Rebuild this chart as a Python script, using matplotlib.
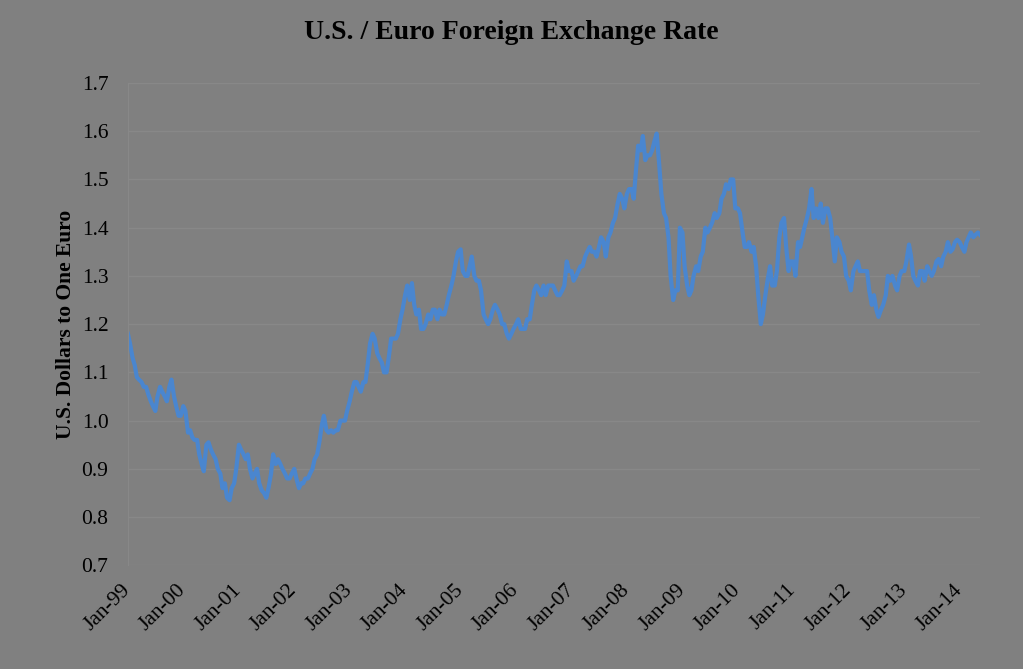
"""U.S. / Euro foreign exchange rate, 1999-2014."""
import numpy as np
import matplotlib
matplotlib.use("Agg")
import matplotlib.pyplot as plt

# Semi-monthly readings (1st and 15th of each month), dollars per euro
rate_1999 = [1.18, 1.16, 1.13, 1.115, 1.09, 1.085, 1.08, 1.07, 1.07, 1.055, 1.04, 1.03,
             1.02, 1.05, 1.07, 1.06, 1.05, 1.04, 1.07, 1.085, 1.05, 1.03, 1.01, 1.01]
rate_2000 = [1.03, 1.02, 0.975, 0.98, 0.965, 0.96, 0.96, 0.93, 0.91, 0.895, 0.95, 0.955,
             0.94, 0.93, 0.92, 0.90, 0.89, 0.86, 0.87, 0.84, 0.835, 0.86, 0.87, 0.90]
rate_2001 = [0.95, 0.94, 0.93, 0.92, 0.93, 0.90, 0.88, 0.89, 0.90, 0.87, 0.855, 0.85,
             0.84, 0.86, 0.89, 0.93, 0.91, 0.92, 0.91, 0.90, 0.89, 0.88, 0.88, 0.89]
rate_2002 = [0.90, 0.88, 0.86, 0.87, 0.87, 0.88, 0.88, 0.89, 0.90, 0.92, 0.93, 0.955,
             0.99, 1.01, 0.98, 0.975, 0.98, 0.975, 0.98, 0.98, 1.00, 1.00, 1.00, 1.02]
rate_2003 = [1.04, 1.06, 1.08, 1.08, 1.07, 1.06, 1.08, 1.08, 1.12, 1.16, 1.18, 1.17,
             1.14, 1.13, 1.12, 1.10, 1.10, 1.13, 1.17, 1.17, 1.17, 1.18, 1.21, 1.23]
rate_2004 = [1.26, 1.28, 1.25, 1.285, 1.24, 1.22, 1.23, 1.19, 1.19, 1.20, 1.22, 1.21,
             1.23, 1.23, 1.21, 1.23, 1.22, 1.22, 1.24, 1.26, 1.28, 1.30, 1.33, 1.35]
rate_2005 = [1.355, 1.31, 1.30, 1.30, 1.32, 1.34, 1.30, 1.29, 1.29, 1.27, 1.22, 1.21,
             1.20, 1.21, 1.23, 1.24, 1.23, 1.22, 1.20, 1.20, 1.18, 1.17, 1.18, 1.19]
rate_2006 = [1.20, 1.21, 1.19, 1.19, 1.19, 1.21, 1.21, 1.24, 1.27, 1.28, 1.27, 1.26,
             1.28, 1.26, 1.28, 1.28, 1.28, 1.27, 1.26, 1.26, 1.27, 1.28, 1.33, 1.31]
rate_2007 = [1.31, 1.29, 1.30, 1.31, 1.32, 1.32, 1.34, 1.35, 1.36, 1.35, 1.35, 1.34,
             1.36, 1.38, 1.37, 1.34, 1.38, 1.39, 1.41, 1.42, 1.45, 1.47, 1.46, 1.44]
rate_2008 = [1.47, 1.48, 1.48, 1.46, 1.52, 1.57, 1.56, 1.59, 1.54, 1.55, 1.55, 1.56,
             1.58, 1.595, 1.53, 1.47, 1.43, 1.42, 1.38, 1.30, 1.25, 1.27, 1.27, 1.40]
rate_2009 = [1.39, 1.32, 1.28, 1.26, 1.27, 1.30, 1.32, 1.31, 1.34, 1.35, 1.40, 1.39,
             1.40, 1.41, 1.43, 1.42, 1.43, 1.46, 1.47, 1.49, 1.48, 1.50, 1.50, 1.44]
rate_2010 = [1.44, 1.43, 1.39, 1.36, 1.36, 1.37, 1.35, 1.36, 1.32, 1.26, 1.20, 1.22,
             1.26, 1.29, 1.32, 1.28, 1.28, 1.31, 1.38, 1.41, 1.42, 1.36, 1.31, 1.33]
rate_2011 = [1.33, 1.30, 1.37, 1.36, 1.38, 1.40, 1.42, 1.44, 1.48, 1.42, 1.44, 1.42,
             1.45, 1.41, 1.44, 1.44, 1.42, 1.38, 1.33, 1.38, 1.37, 1.35, 1.34, 1.30]
rate_2012 = [1.29, 1.27, 1.31, 1.32, 1.33, 1.31, 1.31, 1.31, 1.31, 1.27, 1.24, 1.26,
             1.23, 1.215, 1.23, 1.24, 1.26, 1.30, 1.29, 1.30, 1.28, 1.27, 1.30, 1.31]
rate_2013 = [1.31, 1.33, 1.365, 1.34, 1.30, 1.29, 1.28, 1.31, 1.31, 1.29, 1.32, 1.31,
             1.30, 1.31, 1.33, 1.335, 1.32, 1.34, 1.35, 1.37, 1.35, 1.355, 1.37, 1.375]
rate_2014 = [1.37, 1.36, 1.35, 1.37, 1.38, 1.39, 1.38, 1.385, 1.39, 1.385]

rates = (rate_1999 + rate_2000 + rate_2001 + rate_2002 + rate_2003 + rate_2004
         + rate_2005 + rate_2006 + rate_2007 + rate_2008 + rate_2009 + rate_2010
         + rate_2011 + rate_2012 + rate_2013 + rate_2014)

months = np.arange("1999-01", "2014-06", dtype="datetime64[M]")
dates = []
for m in months:
    d = m.astype("datetime64[D]")
    dates.extend([d, d + np.timedelta64(14, "D")])
dates = np.array(dates[:len(rates)])

year_ticks = np.arange("1999", "2015", dtype="datetime64[Y]").astype("datetime64[D]")
year_labels = [f"Jan-{str(y)[2:4]}" for y in year_ticks.astype("datetime64[Y]")]

bg = "#808080"
plt.rcParams["font.family"] = ["Liberation Serif", "DejaVu Serif"]

fig = plt.figure(figsize=(10.23, 6.69), dpi=100, facecolor=bg)
ax = fig.add_axes([0.125, 0.155, 0.833, 0.721], facecolor=bg)

ax.plot(dates, rates, color="#4a86cf", linewidth=3, solid_joinstyle="round")

ax.set_ylim(0.7, 1.7)
ax.set_yticks(np.arange(0.7, 1.71, 0.1))
ax.yaxis.set_major_formatter(plt.FormatStrFormatter("%.1f"))
ax.set_xlim(np.datetime64("1999-01-01"), dates[-1])
ax.set_xticks(year_ticks)
ax.set_xticklabels(year_labels, rotation=45, ha="right", va="center",
                   rotation_mode="anchor", fontsize=16)

ax.grid(axis="y", color="#888888", linewidth=1)
ax.set_axisbelow(True)
for side in ["top", "right", "bottom"]:
    ax.spines[side].set_visible(False)
ax.spines["left"].set_color("#888888")
ax.tick_params(length=0, labelsize=15.5, colors="black")
ax.tick_params(axis="x", pad=16)
ax.tick_params(axis="y", pad=14)

ax.set_ylabel("U.S. Dollars to One Euro", fontsize=15.5, fontweight="bold",
              labelpad=4)
fig.suptitle("U.S. / Euro Foreign Exchange Rate", fontsize=20, fontweight="bold",
             y=0.97)

fig.savefig("out.png", dpi=100, facecolor=bg)
